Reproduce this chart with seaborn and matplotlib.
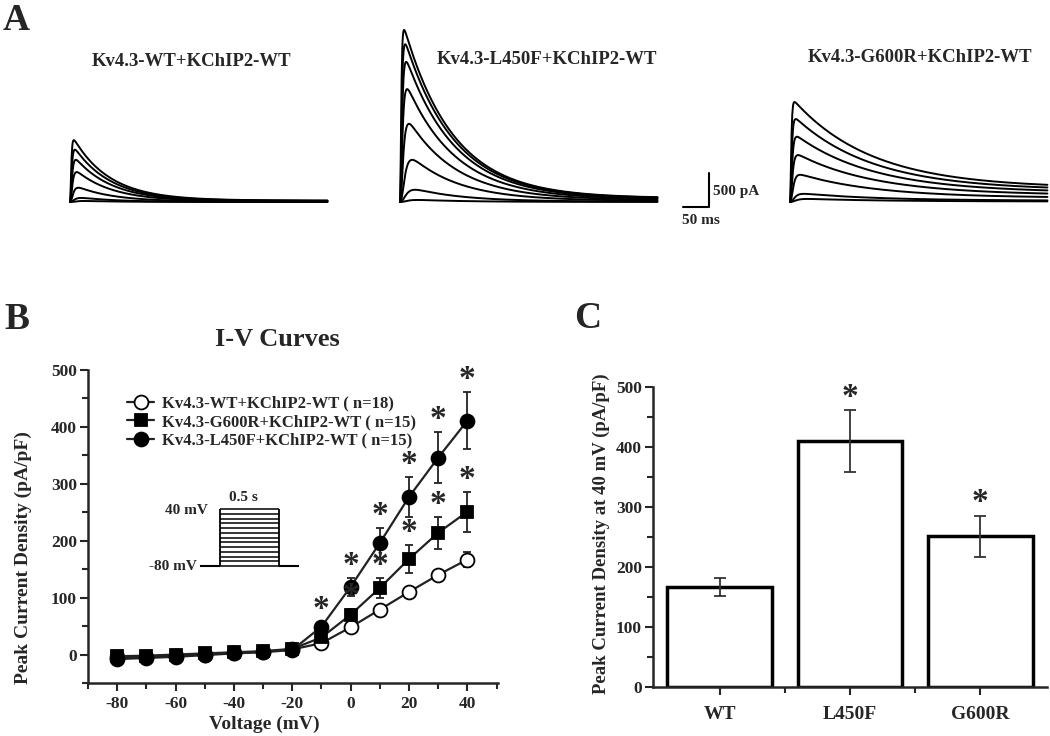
import numpy as np
import pandas as pd
import matplotlib
matplotlib.use("Agg")
import matplotlib.pyplot as plt
import seaborn as sns

W, H = 1050, 736

# Panel A - peak current of each voltage step (pA)
trace_titles = ["Kv4.3-WT+KChIP2-WT", "Kv4.3-L450F+KChIP2-WT", "Kv4.3-G600R+KChIP2-WT"]
wt_peaks = [910, 770, 620, 440, 210, 60, 15]
l450f_peaks = [2530, 2320, 2060, 1660, 1150, 620, 180, 30]
g600r_peaks = [1470, 1220, 960, 690, 400, 120, 45]
act_tau = [1.5, 2, 2.5, 3, 4, 6, 8, 10]      # ms, rise per step
inact_tau = [70, 95, 150]                    # ms, decay per construct
sustained = [0.02, 0.02, 0.13]               # fraction not inactivating
SCALE_MS, SCALE_PA = 50, 500

# Panel B - I-V curves (pA/pF)
voltage = [-80, -70, -60, -50, -40, -30, -20, -10, 0, 10, 20, 30, 40]
wt_mean = [-5, -4, -2, 0, 3, 5, 9, 20, 48, 79, 110, 140, 167]
wt_sem = [2, 2, 2, 2, 2, 2, 2, 3, 6, 6, 6, 8, 14]
g600r_mean = [-3, -2, 0, 2, 4, 6, 10, 30, 70, 117, 168, 214, 251]
g600r_sem = [2, 2, 2, 2, 2, 2, 3, 5, 10, 18, 25, 28, 35]
l450f_mean = [-8, -6, -4, -1, 2, 4, 8, 49, 119, 196, 277, 346, 411]
l450f_sem = [2, 2, 2, 2, 2, 2, 3, 8, 16, 27, 35, 45, 50]
l450f_sig = [-10, 0, 10, 20, 30, 40]
g600r_sig = [0, 10, 20, 30, 40]
iv_labels = ["Kv4.3-WT+KChIP2-WT ( n=18)", "Kv4.3-G600R+KChIP2-WT ( n=15)",
             "Kv4.3-L450F+KChIP2-WT ( n=15)"]

# voltage protocol inset
protocol_steps = [-80, -70, -60, -50, -40, -30, -20, -10, 0, 10, 20, 30, 40]
PULSE_S, HOLD_S = 0.5, 0.17

# Panel C - peak current density at +40 mV
bar_groups = ["WT", "L450F", "G600R"]
bar_mean = [167, 410, 251]
bar_sem = [15, 51, 34]
bar_sig = [False, True, True]

sns.set_style("ticks")
plt.rcParams["font.family"] = ["Liberation Serif", "DejaVu Serif"]
plt.rcParams["font.weight"] = "bold"
plt.rcParams["axes.linewidth"] = 1.8
plt.rcParams["axes.unicode_minus"] = False
plt.rcParams["xtick.direction"] = "out"
plt.rcParams["ytick.direction"] = "out"

fig = plt.figure(figsize=(W / 100, H / 100), dpi=100)


def px_axes(left, top, width, height):
    return fig.add_axes([left / W, 1 - (top + height) / H, width / W, height / H])


def fig_text(x, y, s, **kw):
    fig.text(x / W, 1 - y / H, s, **kw)


# ---------------- Panel A ----------------
PX_MS, PX_PA = 0.52, 0.068


def trace_axes(x0, base):
    ax = px_axes(x0 - 10 * PX_MS, base - 2800 * PX_PA, 520 * PX_MS, 3200 * PX_PA)
    ax.set_xlim(-10, 510)
    ax.set_ylim(-400, 2800)
    ax.axis("off")
    return ax


t = np.linspace(0, 495, 800)
for k, (peaks, x0) in enumerate(zip([wt_peaks, l450f_peaks, g600r_peaks], [70, 400, 790])):
    rows = []
    for i, pk in enumerate(peaks):
        shape = (1 - np.exp(-t / act_tau[i])) ** 3 * \
            ((1 - sustained[k]) * np.exp(-t / inact_tau[k]) + sustained[k])
        rows.append(pd.DataFrame({"t": t, "I": pk * shape / shape.max(), "step": i}))
    df = pd.concat(rows)
    ax = trace_axes(x0, 202)
    sns.lineplot(data=df, x="t", y="I", units="step", estimator=None,
                 color="black", lw=1.4, ax=ax, legend=False)
    ax.axis("off")

axs = trace_axes(683, 207)
axs.plot([0, SCALE_MS, SCALE_MS], [0, 0, SCALE_PA], color="black", lw=1.5)
fig_text(713, 192, f"{SCALE_PA} pA", fontsize=11, va="center", ha="left")
fig_text(682, 221, f"{SCALE_MS} ms", fontsize=11, va="center", ha="left")

for title, cx, cy in zip(trace_titles, [192, 547, 920], [62, 60, 58]):
    fig_text(cx, cy, title, fontsize=13.5, ha="center", va="center")

fig_text(16, 20, "A", fontsize=27, ha="center", va="center")
fig_text(17, 320, "B", fontsize=27, ha="center", va="center")
fig_text(588, 318, "C", fontsize=27, ha="center", va="center")

# ---------------- Panel B ----------------
axB = px_axes(88, 370, 410, 313)
series = [
    (wt_mean, wt_sem, "o", "white"),
    (g600r_mean, g600r_sem, "s", "black"),
    (l450f_mean, l450f_sem, "o", "black"),
]
for (mean, sem, mk, fc), lab in zip(series, iv_labels):
    axB.errorbar(voltage, mean, yerr=sem, fmt="none", ecolor="#222",
                 elinewidth=1.3, capsize=3, capthick=1.3, zorder=2)
    sns.lineplot(x=voltage, y=mean, ax=axB, color="#222", lw=1.6, marker=mk,
                 markersize=10 if mk == "o" else 9, markerfacecolor=fc,
                 markeredgecolor="black", markeredgewidth=1.3, label=lab, zorder=3)

for sig, mean, sem in [(l450f_sig, l450f_mean, l450f_sem), (g600r_sig, g600r_mean, g600r_sem)]:
    for v in sig:
        i = voltage.index(v)
        axB.text(v, mean[i] + sem[i] + 22, "*", ha="center", va="center",
                 fontsize=24, fontweight="bold")

axB.set_xlim(-90, 50.5)
axB.set_ylim(-50, 500)
axB.set_xticks([-80, -60, -40, -20, 0, 20, 40])
axB.set_xticks(range(-90, 51, 10), minor=True)
axB.set_yticks([0, 100, 200, 300, 400, 500])
axB.set_yticks(range(-50, 501, 50), minor=True)
axB.set_yticklabels(["0", "100", "200", "300", "400", "500"])
axB.tick_params(axis="both", which="major", length=6, width=1.5, labelsize=12.5, pad=2)
axB.tick_params(axis="x", which="major", pad=3)
axB.tick_params(axis="both", which="minor", length=4, width=1.5)
axB.set_xlabel("Voltage (mV)", fontsize=14, fontweight="bold")
axB.set_ylabel("Peak Current Density (pA/pF)", fontsize=14, fontweight="bold")
axB.xaxis.set_label_coords(0.43, -0.105)
axB.yaxis.set_label_coords(-0.137, 0.40)
sns.despine(ax=axB)
fig_text(277, 340, "I-V Curves", fontsize=19, ha="center", va="center")
handles, labels = axB.get_legend_handles_labels()
axB.legend(handles, labels, loc="upper left", bbox_to_anchor=(0.08, 0.94), frameon=False,
           fontsize=12, handlelength=1.6, handletextpad=0.5, labelspacing=0.15,
           borderaxespad=0)

# protocol inset
axP = px_axes(200, 499.5, 0.85 * 118, 150 * 0.475)
axP.set_xlim(-HOLD_S, PULSE_S + 0.18)
axP.set_ylim(-90, 60)
axP.axis("off")
axP.hlines(protocol_steps, 0, PULSE_S, color="black", lw=1.1)
axP.vlines([0, PULSE_S], -80, 40, color="black", lw=1.3)
axP.hlines([-80, -80], [-HOLD_S, PULSE_S], [0, PULSE_S + HOLD_S], color="black", lw=1.5)
axP.text(-0.10, 36, "40 mV", ha="right", va="center", fontsize=11)
axP.text(-HOLD_S - 0.03, -80, "-80 mV", ha="right", va="center", fontsize=11)
axP.text(PULSE_S * 0.4, 65, f"{PULSE_S} s", ha="center", va="center", fontsize=11)

# ---------------- Panel C ----------------
axC = px_axes(653, 387, 394, 300)
sns.barplot(x=bar_groups, y=bar_mean, ax=axC, color="white", saturation=1,
            edgecolor="black", linewidth=2.5, width=0.8, errorbar=None)
axC.errorbar(range(len(bar_groups)), bar_mean, yerr=bar_sem, fmt="none",
             ecolor="#333", elinewidth=1.3, capsize=4, capthick=1.3)
for i, s in enumerate(bar_sig):
    if s:
        axC.text(i, bar_mean[i] + bar_sem[i] + 22, "*", ha="center", va="center",
                 fontsize=24, fontweight="bold")
axC.set_xlim(-0.51, 2.51)
axC.set_ylim(0, 500)
axC.set_yticks([0, 100, 200, 300, 400, 500])
axC.set_yticks(range(0, 501, 50), minor=True)
axC.set_xticks([0.5, 1.5], minor=True)
axC.tick_params(axis="both", which="major", length=6, width=1.5, pad=2)
axC.tick_params(axis="y", labelsize=12.5)
axC.tick_params(axis="x", labelsize=14, pad=8)
axC.tick_params(axis="both", which="minor", length=4, width=1.5)
axC.set_ylabel("Peak Current Density at 40 mV (pA/pF)", fontsize=13.5, fontweight="bold")
axC.yaxis.set_label_coords(-0.109, 0.51)
axC.set_xlabel("")
sns.despine(ax=axC)

fig.savefig("out.png", dpi=100)
